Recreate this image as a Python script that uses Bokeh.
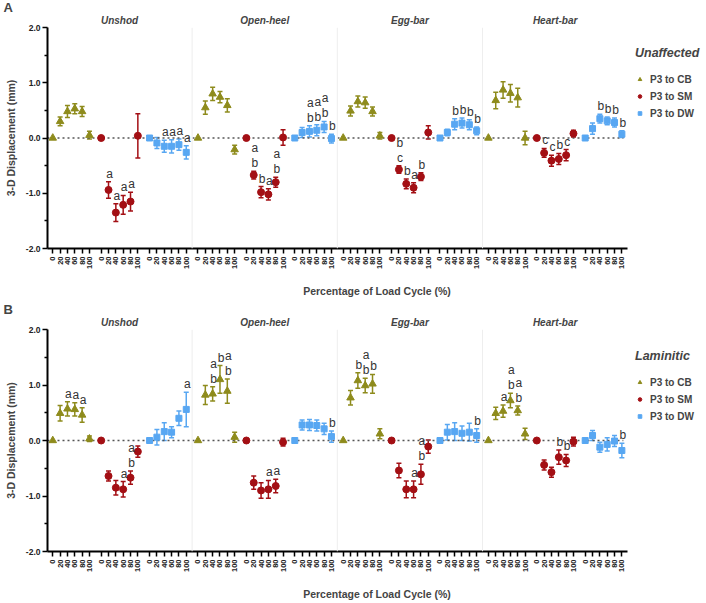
import math
from bokeh.plotting import figure
from bokeh.models import (ColumnDataSource, FixedTicker, LinearAxis, Span, Whisker, TeeHead,
                          Legend, LegendItem, Title, NumeralTickFormatter, Range1d)
from bokeh.layouts import column
from bokeh.core.properties import value
from bokeh.embed import file_html
from bokeh.resources import INLINE

# ---------------- data ----------------
GROUPS = ["Unshod", "Open-heel", "Egg-bar", "Heart-bar"]
SERIES = ["P3 to CB", "P3 to SM", "P3 to DW"]
PCT = [0, 20, 40, 60, 80, 100]
PCT_LABELS = ["0", "20", "40", "60", "80", "100"]
Y_TICKS = [-2, -1, 0, 1, 2]
Y_MINOR = [-1.5, -0.5, 0.5, 1.5]

# Panel A - Unaffected (rows = groups, cols = % load cycle)
A_CB_MEAN = [[0, 0.30, 0.48, 0.53, 0.48, 0.05],
             [0, 0.55, 0.80, 0.74, 0.59, -0.21],
             [0, 0.49, 0.66, 0.64, 0.48, 0.04],
             [0, 0.68, 0.87, 0.81, 0.73, 0.00]]
A_CB_ERR = [[0, 0.08, 0.11, 0.09, 0.09, 0.07],
            [0, 0.12, 0.12, 0.10, 0.12, 0.08],
            [0, 0.09, 0.10, 0.10, 0.08, 0.06],
            [0, 0.15, 0.15, 0.16, 0.17, 0.12]]
A_CB_LET = [["", "", "", "", "", ""],
            ["", "", "", "", "", ""],
            ["", "", "", "", "", ""],
            ["", "", "", "", "", ""]]
A_SM_MEAN = [[0, -0.94, -1.35, -1.21, -1.15, 0.04],
             [0, -0.67, -0.98, -1.02, -0.80, 0.01],
             [0, -0.57, -0.83, -0.90, -0.70, 0.10],
             [0, -0.27, -0.41, -0.38, -0.31, 0.08]]
A_SM_ERR = [[0, 0.15, 0.16, 0.17, 0.17, 0.40],
            [0, 0.07, 0.10, 0.10, 0.09, 0.14],
            [0, 0.07, 0.09, 0.09, 0.07, 0.12],
            [0, 0.08, 0.10, 0.10, 0.10, 0.06]]
A_SM_LET = [["", "a", "a", "a", "a", ""],
            ["", "ab", "b", "a", "ab", ""],
            ["", "bc", "b", "a", "b", ""],
            ["", "c", "c", "b", "c", ""]]
A_DW_MEAN = [[0, -0.09, -0.15, -0.15, -0.12, -0.26],
             [0, 0.10, 0.12, 0.14, 0.20, -0.01],
             [0, 0.10, 0.25, 0.27, 0.24, 0.13],
             [0, 0.17, 0.35, 0.31, 0.28, 0.07]]
A_DW_ERR = [[0, 0.10, 0.11, 0.12, 0.10, 0.12],
            [0, 0.09, 0.10, 0.10, 0.10, 0.08],
            [0, 0.06, 0.10, 0.09, 0.09, 0.07],
            [0, 0.10, 0.08, 0.07, 0.08, 0.06]]
A_DW_LET = [["", "", "a", "a", "a", "a"],
            ["", "", "ab", "ab", "ab", "b"],
            ["", "", "b", "b", "b", "b"],
            ["", "", "b", "b", "b", "b"]]

# Panel B - Laminitic
B_CB_MEAN = [[0, 0.49, 0.57, 0.56, 0.46, 0.03],
             [0, 0.82, 0.84, 1.10, 0.89, 0.06],
             [0, 0.77, 1.08, 0.99, 1.02, 0.12],
             [0, 0.49, 0.53, 0.72, 0.54, 0.12]]
B_CB_ERR = [[0, 0.14, 0.13, 0.12, 0.13, 0.05],
            [0, 0.17, 0.13, 0.25, 0.22, 0.09],
            [0, 0.13, 0.14, 0.13, 0.17, 0.09],
            [0, 0.11, 0.11, 0.13, 0.08, 0.10]]
B_CB_LET = [["", "", "a", "a", "a", ""],
            ["", "", "ab", "b", "ab", ""],
            ["", "", "b", "ab", "b", ""],
            ["", "", "a", "ab", "ab", ""]]
B_SM_MEAN = [[0, -0.64, -0.85, -0.88, -0.67, -0.20],
             [0, -0.76, -0.90, -0.88, -0.82, -0.03],
             [0, -0.54, -0.88, -0.88, -0.61, -0.11],
             [0, -0.44, -0.57, -0.30, -0.36, -0.02]]
B_SM_ERR = [[0, 0.09, 0.13, 0.14, 0.12, 0.10],
            [0, 0.12, 0.14, 0.16, 0.12, 0.07],
            [0, 0.13, 0.15, 0.15, 0.18, 0.12],
            [0, 0.09, 0.09, 0.13, 0.11, 0.08]]
B_SM_LET = [["", "", "", "a", "ab", ""],
            ["", "", "", "a", "a", ""],
            ["", "", "", "a", "ab", ""],
            ["", "", "", "b", "b", ""]]
B_DW_MEAN = [[0, 0.06, 0.16, 0.15, 0.40, 0.56],
             [0, 0.28, 0.28, 0.27, 0.21, 0.07],
             [0, 0.15, 0.16, 0.13, 0.15, 0.09],
             [0, 0.09, -0.12, -0.07, -0.01, -0.18]]
B_DW_ERR = [[0, 0.14, 0.16, 0.10, 0.13, 0.31],
            [0, 0.09, 0.10, 0.10, 0.10, 0.10],
            [0, 0.14, 0.16, 0.13, 0.16, 0.12],
            [0, 0.09, 0.09, 0.12, 0.10, 0.13]]
B_DW_LET = [["", "", "", "", "", "a"],
            ["", "", "", "", "", "b"],
            ["", "", "", "", "", "b"],
            ["", "", "", "", "", "b"]]

# ---------------- style / layout ----------------
FONT = "Liberation Sans"
COLORS = ["#8E8B1C", "#A30F14", "#58A7F2"]
MARKERS = ["triangle", "circle", "square"]
SIZES = [7.5, 7, 6]
STEP = 5          # x units between load-cycle points
SERIES_OFF = 33   # x units between series within a group
GROUP_OFF = 99    # x units between groups
X_MIN, X_AXIS_END, X_MAX = -3.6, 392, 445.7   # axis drawn to X_AXIS_END, legend beyond
FIG_W = 706


def xpos(g, s, i):
    return g * GROUP_OFF + s * SERIES_OFF + i * STEP


def make_panel(tag, cond, means, errs, lets, height, top, bottom, title_standoff):
    p = figure(width=FIG_W, height=height, output_backend="svg", toolbar_location=None,
               x_range=Range1d(X_MIN, X_MAX), y_range=Range1d(-2, 2),
               x_axis_type=None, y_axis_type=None,
               min_border_left=47, min_border_right=0,
               min_border_top=top, min_border_bottom=bottom)
    p.outline_line_color = None
    p.background_fill_color = "white"

    # panel tag as title
    p.title = Title(text=tag, align="left", offset=-44, standoff=title_standoff,
                    text_font=FONT, text_font_style="bold", text_font_size="13px")

    # bottom axis
    ticks, over = [], {}
    for g in range(len(GROUPS)):
        for s in range(len(SERIES)):
            for i in range(len(PCT)):
                t = xpos(g, s, i)
                ticks.append(t)
                over[t] = PCT_LABELS[i]
    xa = LinearAxis(ticker=FixedTicker(ticks=ticks), major_label_overrides=over,
                    axis_label="Percentage of Load Cycle (%)",
                    major_label_orientation=math.pi / 2, bounds=(X_MIN, X_AXIS_END))
    xa.axis_line_width = 2
    xa.major_tick_line_width = 1.5
    xa.major_tick_out = 5
    xa.major_tick_in = 0
    xa.major_label_standoff = 3
    xa.major_label_text_font = FONT
    xa.major_label_text_font_style = "bold"
    xa.major_label_text_font_size = "7.5px"
    xa.major_label_text_color = "#222222"
    xa.axis_label_text_font = FONT
    xa.axis_label_text_font_style = "bold"
    xa.axis_label_text_font_size = "10.5px"
    xa.axis_label_standoff = 13
    p.add_layout(xa, "below")

    # left axis
    ya = LinearAxis(ticker=FixedTicker(ticks=Y_TICKS, minor_ticks=Y_MINOR),
                    formatter=NumeralTickFormatter(format="0.0"),
                    axis_label="3-D Displacement (mm)")
    ya.axis_line_width = 2
    ya.major_tick_line_width = 1.5
    ya.minor_tick_line_width = 1.5
    ya.major_tick_out = 5
    ya.major_tick_in = 0
    ya.minor_tick_out = 3
    ya.minor_tick_in = 0
    ya.major_label_standoff = 2
    ya.major_label_text_font = FONT
    ya.major_label_text_font_style = "bold"
    ya.major_label_text_font_size = "8.5px"
    ya.major_label_text_color = "#222222"
    ya.axis_label_text_font = FONT
    ya.axis_label_text_font_style = "bold"
    ya.axis_label_text_font_size = "10.5px"
    ya.axis_label_standoff = 6
    p.add_layout(ya, "left")

    # group titles as an axis above
    centers = [xpos(g, 0, 0) + (xpos(g, 2, 5) - xpos(g, 0, 0)) / 2 for g in range(len(GROUPS))]
    ta = LinearAxis(ticker=FixedTicker(ticks=centers),
                    major_label_overrides={c: n for c, n in zip(centers, GROUPS)})
    ta.axis_line_color = None
    ta.major_tick_line_color = None
    ta.minor_tick_line_color = None
    ta.major_tick_out = 0
    ta.major_tick_in = 0
    ta.major_label_standoff = 2
    ta.major_label_text_font = FONT
    ta.major_label_text_font_style = "bold italic"
    ta.major_label_text_font_size = "10px"
    p.add_layout(ta, "above")

    # faint group separators and dotted zero line
    for g in range(1, len(GROUPS)):
        sep = (xpos(g - 1, 2, 5) + xpos(g, 0, 0)) / 2
        p.add_layout(Span(location=sep, dimension="height", line_color="#eeeeee", line_width=1))
    p.segment(x0=[X_MIN], x1=[xpos(len(GROUPS) - 1, 2, 5) + 1], y0=[0], y1=[0],
              line_color="#555555", line_width=1.5, line_dash="2 3")

    # series
    renderers = []
    lx, ly, lt, lo = [], [], [], []
    for s in range(len(SERIES)):
        xs, ys = [], []
        ex, eu, el = [], [], []
        for g in range(len(GROUPS)):
            for i in range(len(PCT)):
                x = xpos(g, s, i)
                m = means[s][g][i]
                e = errs[s][g][i]
                xs.append(x)
                ys.append(m)
                if e > 0:
                    ex.append(x)
                    eu.append(m + e)
                    el.append(m - e)
                lab = lets[s][g][i]
                for k, ch in enumerate(reversed(lab)):
                    lx.append(x)
                    ly.append(m + e)
                    lt.append(ch)
                    lo.append(-1 - 15 * k)
        esrc = ColumnDataSource(dict(x=ex, upper=eu, lower=el))
        c = COLORS[s]
        p.add_layout(Whisker(source=esrc, base="x", upper="upper", lower="lower",
                             line_color=c, line_width=1.5,
                             upper_head=TeeHead(size=5, line_color=c, line_width=1.5),
                             lower_head=TeeHead(size=5, line_color=c, line_width=1.5)))
        src = ColumnDataSource(dict(x=xs, y=ys))
        r = p.scatter("x", "y", source=src, marker=MARKERS[s], size=SIZES[s],
                      fill_color=c, line_color=c, line_width=1)
        renderers.append(r)

    lsrc = ColumnDataSource(dict(x=lx, y=ly, t=lt, yo=lo))
    p.text(x="x", y="y", text="t", y_offset="yo", x_offset=1, source=lsrc,
           text_font=value(FONT), text_font_size="12px", text_align="center",
           text_baseline="bottom", text_color="#333333")

    # legend placed right of the drawn axis
    items = [LegendItem(label=SERIES[s], renderers=[renderers[s]]) for s in range(len(SERIES))]
    fh = height - top - bottom
    leg = Legend(items=items, location=(588, fh - 99), title=cond)
    leg.title_text_font = FONT
    leg.title_text_font_style = "bold italic"
    leg.title_text_font_size = "12.5px"
    leg.title_standoff = 13
    leg.label_text_font = FONT
    leg.label_text_font_style = "bold"
    leg.label_text_font_size = "10px"
    leg.glyph_width = 9
    leg.glyph_height = 12
    leg.label_height = 12
    leg.label_standoff = 6
    leg.spacing = 5
    leg.padding = 3
    leg.margin = 0
    leg.border_line_color = None
    leg.background_fill_alpha = 0
    p.add_layout(leg)
    return p


pa = make_panel("A", "Unaffected",
                [A_CB_MEAN, A_SM_MEAN, A_DW_MEAN], [A_CB_ERR, A_SM_ERR, A_DW_ERR],
                [A_CB_LET, A_SM_LET, A_DW_LET], height=300, top=27, bottom=45,
                title_standoff=-7)
pb = make_panel("B", "Laminitic",
                [B_CB_MEAN, B_SM_MEAN, B_DW_MEAN], [B_CB_ERR, B_SM_ERR, B_DW_ERR],
                [B_CB_LET, B_SM_LET, B_DW_LET], height=303, top=29, bottom=46,
                title_standoff=-7)

layout = column(pa, pb, spacing=0)
open("out.html", "w").write(file_html(layout, INLINE))
